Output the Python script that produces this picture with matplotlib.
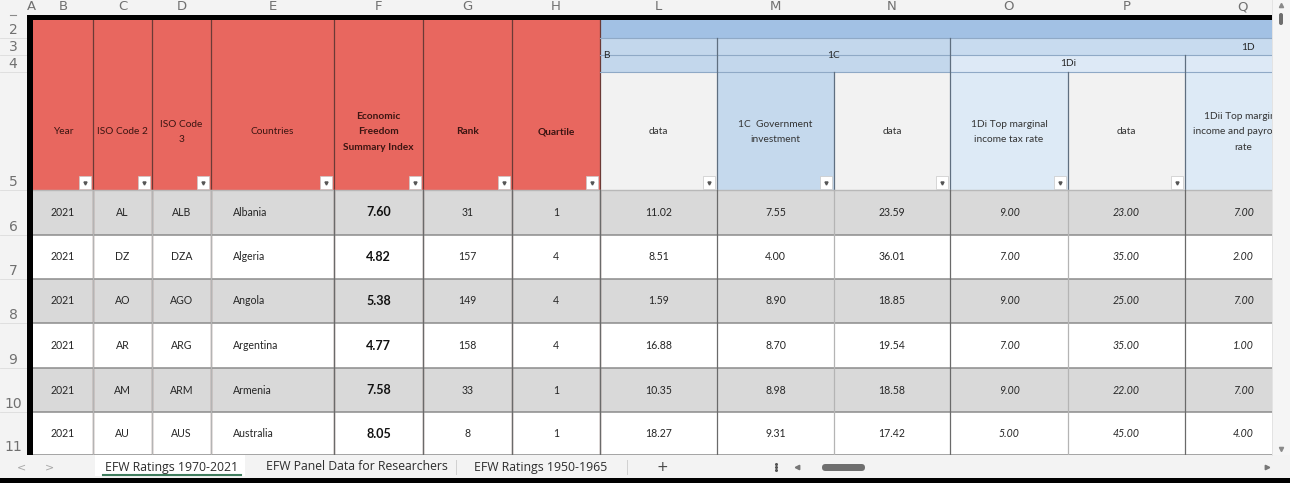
import matplotlib
matplotlib.use("Agg")
import matplotlib.pyplot as plt
from matplotlib.patches import Rectangle, FancyBboxPatch

# ---- sheet data (rows 6-11) ----
years = [2021, 2021, 2021, 2021, 2021, 2021]
iso2 = ["AL", "DZ", "AO", "AR", "AM", "AU"]
iso3 = ["ALB", "DZA", "AGO", "ARG", "ARM", "AUS"]
countries = ["Albania", "Algeria", "Angola", "Argentina", "Armenia", "Australia"]
efw_index = [7.60, 4.82, 5.38, 4.77, 7.58, 8.05]
rank = [31, 157, 149, 158, 33, 8]
quartile = [1, 4, 4, 4, 1, 1]
col_l_data = [11.02, 8.51, 1.59, 16.88, 10.35, 18.27]
gov_investment = [7.55, 4.00, 8.90, 8.70, 8.98, 9.31]
col_n_data = [23.59, 36.01, 18.85, 19.54, 18.58, 17.42]
top_income_tax = [9.00, 7.00, 9.00, 7.00, 9.00, 5.00]
col_p_data = [23.00, 35.00, 25.00, 35.00, 22.00, 45.00]
top_payroll_tax = [7.00, 2.00, 7.00, 1.00, 7.00, 4.00]

col_letters = ["A", "B", "C", "D", "E", "F", "G", "H", "L", "M", "N", "O", "P", "Q"]
row_numbers = ["2", "3", "4", "5", "6", "7", "8", "9", "10", "11"]
red_headers = ["Year", "ISO Code 2", "ISO Code\n3", "Countries",
               "Economic\nFreedom\nSummary Index", "Rank", "Quartile"]
blue_headers = ["data", "1C  Government\ninvestment", "data",
                "1Di Top marginal\nincome tax rate", "data",
                "1Dii Top marginal\nincome and payroll tax\nrate"]
sheet_tabs = ["EFW Ratings 1970-2021", "EFW Panel Data for Researchers",
              "EFW Ratings 1950-1965"]

# ---- layout (pixels) ----
W, H = 1290, 483
edges = [27, 33, 93, 152, 211, 334, 423, 512, 600, 717, 834, 950, 1068, 1185, 1302]
row_edges = [15, 20, 38, 55, 72, 190, 235, 279, 323, 368, 412, 455]
RIGHT = 1272
FONT = "Lato"

fig = plt.figure(figsize=(W / 100, H / 100), dpi=100)
ax = fig.add_axes([0, 0, 1, 1])
ax.set_xlim(0, W)
ax.set_ylim(H, 0)
ax.axis("off")


def rect(x0, y0, x1, y1, fc, ec="none", lw=0, z=1):
    ax.add_patch(Rectangle((x0, y0), x1 - x0, y1 - y0, facecolor=fc,
                           edgecolor=ec, linewidth=lw, zorder=z))


def txt(x, y, s, size=7.6, ha="center", weight="normal", style="normal",
        color="#262626", z=3, family=FONT, ls=1.3):
    return ax.text(x, y, s, ha=ha, va="center", fontsize=size, fontweight=weight,
                   fontstyle=style, color=color, zorder=z, family=family,
                   linespacing=ls, multialignment="center")


# backgrounds
rect(0, 0, W, H, "#f3f3f3", z=0)
rect(33, 20, RIGHT, 455, "white", z=0.5)

# column letters
for i, letter in enumerate(col_letters):
    cx = (edges[i] + edges[i + 1]) / 2 if i > 0 else 31
    if letter == "Q":
        cx = 1243
    txt(cx, 7, letter, size=9.5, color="#707070", family="DejaVu Sans", z=12)
# row numbers
for i, rn in enumerate(row_numbers):
    bottom = row_edges[i + 2]
    txt(13, bottom - 8, rn, size=10, color="#707070", family="DejaVu Sans")
    ax.plot([0, 27], [bottom, bottom], color="#dcdcdc", lw=0.6, zorder=1)
ax.plot([10, 16], [15, 15], color="#8a8a8a", lw=0.8, zorder=2)

# red header block
rect(33, 20, 600, 190, "#e8675f", z=1)
for i, lab in enumerate(red_headers):
    x0, x1 = edges[i + 1], edges[i + 2]
    bold = i >= 4
    txt((x0 + x1) / 2, 132, lab, size=7.3, weight="bold" if bold else "normal",
        color="#3b1512", ls=1.95)
    ax.plot([x1, x1], [20, 455], color="#6b3a36", lw=0.9, zorder=2)

# blue header block
rect(600, 20, RIGHT + 40, 38, "#a2c1e4", z=1)
rect(600, 38, 950, 72, "#c3d7ec", z=1)
rect(950, 38, RIGHT + 40, 55, "#c8dbef", z=1)
rect(950, 55, RIGHT + 40, 72, "#dde9f6", z=1)
txt(606, 55, "B", size=7.3)
txt(834, 55, "1C", size=7.3)
txt(1248, 47, "1D", size=7.3)
txt(1068, 64, "1Di", size=7.3)
blue_fc = ["#f2f2f2", "#c5d9ed", "#f2f2f2", "#ddeaf6", "#f2f2f2", "#ddeaf6"]
for i, lab in enumerate(blue_headers):
    x0, x1 = edges[i + 8], edges[i + 9]
    rect(x0, 72, x1, 190, blue_fc[i], z=1)
    # the last column runs under the scrollbar, like the sheet view
    txt((x0 + x1) / 2, 132, lab, size=7.3, color="#333333", ls=1.95)
for y in [38, 55, 72]:
    ax.plot([600, RIGHT], [y, y], color="#8fa9c6", lw=0.8, zorder=2)
for x, y0 in [(717, 38), (834, 72), (950, 38), (1068, 72), (1185, 55)]:
    ax.plot([x, x], [y0, 190], color="#5f6f80", lw=0.9, zorder=2)

# filter buttons
for i in range(1, len(edges) - 2):
    bx = edges[i + 1] - 14
    rect(bx, 176, bx + 12, 189, "white", ec="#c8c8c8", lw=0.5, z=4)
    ax.plot(bx + 6, 183, marker="v", ms=2.2, color="#555555", zorder=5)

# data rows
row_fc = ["#d9d9d9", "white"]
columns = [years, iso2, iso3, countries, efw_index, rank, quartile,
           col_l_data, gov_investment, col_n_data,
           top_income_tax, col_p_data, top_payroll_tax]
for r in range(len(years)):
    y0, y1 = row_edges[r + 5], row_edges[r + 6]
    yc = (y0 + y1) / 2
    rect(33, y0, RIGHT + 40, y1, row_fc[r % 2], z=1)
    for c, series in enumerate(columns):
        x0, x1 = edges[c + 1], edges[c + 2]
        v = series[r]
        if c == 3:
            txt(x0 + 22, yc, v, ha="left")
        elif c == 4:
            txt((x0 + x1) / 2, yc, f"{v:.2f}", size=9, weight="bold", color="#111111")
        elif c in (0, 1, 2, 5, 6):
            txt((x0 + x1) / 2, yc, str(v))
        elif c >= 10:
            cx = (x0 + x1) / 2 if c < 12 else 1243
            txt(cx, yc, f"{v:.2f}", style="italic")
        else:
            txt((x0 + x1) / 2, yc, f"{v:.2f}")
    ax.plot([33, RIGHT], [y1, y1], color="#8c8c8c", lw=1.1, zorder=2)
ax.plot([33, RIGHT], [190, 190], color="#b8b8b8", lw=1.0, zorder=2)
for x in [93, 152, 211, 834, 1068]:
    ax.plot([x, x], [190, 455], color="#b4b4b4", lw=0.9, zorder=2.1)
for x in [334, 423, 512, 600, 717, 950, 1185]:
    ax.plot([x, x], [190, 455], color="#6a6a6a", lw=0.9, zorder=2.1)

# thick black border (row 1 / column A)
rect(27, 15, RIGHT, 20, "black", z=6)
rect(27, 15, 33, 455, "black", z=6)

# vertical scrollbar
rect(RIGHT, 0, W, 455, "#f5f5f5", z=10)
ax.plot([RIGHT, RIGHT], [0, 455], color="#e0e0e0", lw=0.6, zorder=11)
ax.plot(1281, 5, marker="^", ms=3, color="#8a8a8a", zorder=12)
ax.add_patch(FancyBboxPatch((1279, 13), 4, 12, boxstyle="round,pad=0,rounding_size=2",
                            fc="#6e6e6e", ec="none", zorder=12))
ax.plot(1281, 449, marker="v", ms=3, color="#8a8a8a", zorder=12)

# sheet tab bar
rect(0, 455, W, 478, "#f3f3f3", z=7)
rect(0, 478, W, H, "black", z=7)
rect(95, 455, 245, 476, "white", z=8)
ax.plot([103, 241], [474.5, 474.5], color="#3f7d5e", lw=1.5, zorder=9)
tab_x = [172, 357, 541]
for x, s in zip(tab_x, sheet_tabs):
    txt(x, 467, s, size=8.8, color="#2d2d2d", family="Open Sans", z=9)
for x in [456, 627]:
    ax.plot([x, x], [460, 474], color="#d0d0d0", lw=0.7, zorder=9)
txt(22, 467, "<", size=8, color="#a8a8a8", family="DejaVu Sans", z=9)
txt(50, 467, ">", size=8, color="#a8a8a8", family="DejaVu Sans", z=9)
txt(662, 467, "+", size=10, color="#444444", family="DejaVu Sans", z=9)
for dy in (-3, 0, 3):
    ax.plot(776, 467 + dy, marker="o", ms=1.2, color="#555555", zorder=9)
ax.plot(797, 467, marker="<", ms=3.2, color="#777777", zorder=9)
ax.add_patch(FancyBboxPatch((822, 464), 43, 7, boxstyle="round,pad=0,rounding_size=3.5",
                            fc="#6f6f6f", ec="none", zorder=9))
ax.plot(1267, 467, marker=">", ms=3.2, color="#777777", zorder=9)

fig.savefig("out.png", dpi=100)
